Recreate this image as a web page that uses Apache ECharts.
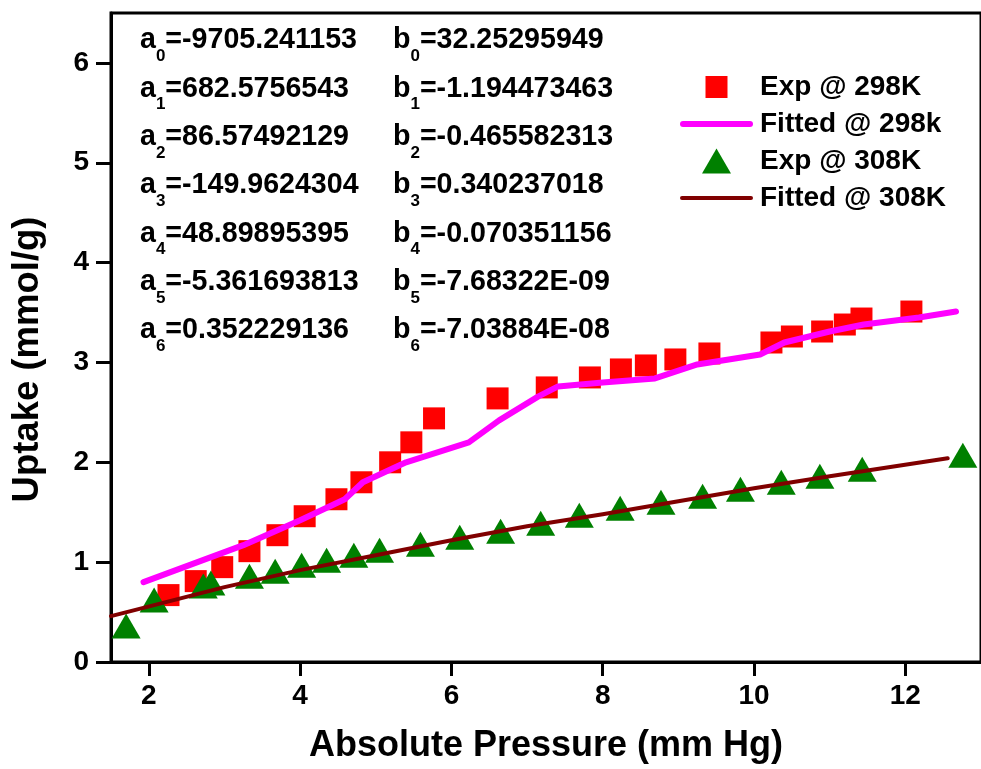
<!DOCTYPE html>
<html>
<head>
<meta charset="utf-8">
<script src="https://cdn.jsdelivr.net/npm/echarts@6/dist/echarts.min.js"></script>
<style>
html,body{margin:0;padding:0;background:#fff;}
#chart{width:981px;height:769px;}
</style>
</head>
<body>
<div id="chart"></div>
<script>
// ---- data ----
var exp298X = [2.26,2.62,2.97,3.33,3.70,4.06,4.48,4.81,5.19,5.47,5.77,6.61,7.26,7.83,8.24,8.57,8.96,9.41,10.23,10.50,10.90,11.20,11.42,12.08];
var exp298Y = [0.67,0.81,0.95,1.11,1.27,1.46,1.63,1.80,2.00,2.20,2.44,2.64,2.75,2.85,2.93,2.97,3.03,3.09,3.20,3.26,3.31,3.38,3.44,3.51];

var fit298X = [1.93,3.25,4.00,4.59,4.83,5.40,6.23,6.63,7.15,7.41,8.00,8.69,9.25,10.08,10.40,11.00,11.45,12.18,12.67];
var fit298Y = [0.80,1.17,1.42,1.63,1.80,2.00,2.20,2.42,2.66,2.76,2.80,2.84,2.98,3.08,3.20,3.31,3.38,3.45,3.51];

var exp308X = [1.70,2.07,2.72,2.82,3.33,3.67,4.02,4.35,4.71,5.05,5.59,6.11,6.65,7.18,7.69,8.23,8.77,9.32,9.82,10.36,10.87,11.43,12.76];
var exp308Y = [0.36,0.62,0.76,0.79,0.86,0.91,0.97,1.02,1.07,1.12,1.18,1.25,1.31,1.39,1.47,1.54,1.60,1.66,1.73,1.80,1.86,1.93,2.07];

var fit308X = [1.50,2.07,3.00,4.00,5.00,6.00,7.00,8.00,9.00,10.00,11.00,12.56];
var fit308Y = [0.46,0.57,0.75,0.92,1.07,1.22,1.36,1.48,1.61,1.74,1.86,2.04];

var xTicks = [2,4,6,8,10,12];
var yTicks = [0,1,2,3,4,5,6];

var seriesNames = ['Exp @ 298K','Fitted @ 298k','Exp @ 308K','Fitted @ 308K'];
var coefA = ['-9705.241153','682.5756543','86.57492129','-149.9624304','48.89895395','-5.361693813','0.352229136'];
var coefB = ['32.25295949','-1.194473463','-0.465582313','0.340237018','-0.070351156','-7.68322E-09','-7.03884E-08'];
var xTitle = 'Absolute Pressure (mm Hg)';
var yTitle = 'Uptake (mmol/g)';

function pairs(xs, ys){ return xs.map(function(x,i){ return [x, ys[i]]; }); }

var FONT = "'Liberation Sans', Arial, sans-serif";

var rich = {
  m: {fontSize: 28.6, fontWeight: 'bold', fontFamily: FONT, fill: '#000', color: '#000', lineHeight: 34, verticalAlign: 'top'},
  s: {fontSize: 17, fontWeight: 'bold', fontFamily: FONT, fill: '#000', color: '#000', lineHeight: 17, padding: [22,0,0,0], verticalAlign: 'top'}
};

var graphics = [];
for (var i = 0; i < coefA.length; i++) {
  var yTop = 26 + 48.3 * i;
  graphics.push({
    type: 'text', x: 140, y: yTop, z: 100,
    style: {text: '{m|a}{s|' + i + '}{m|=' + coefA[i] + '}', rich: rich, verticalAlign: 'top', align: 'left'}
  });
  graphics.push({
    type: 'text', x: 393, y: yTop, z: 100,
    style: {text: '{m|b}{s|' + i + '}{m|=' + coefB[i] + '}', rich: rich, verticalAlign: 'top', align: 'left'}
  });
}

var chart = echarts.init(document.getElementById('chart'), null, {renderer: 'canvas'});
chart.setOption({
  animation: false,
  backgroundColor: '#fff',
  grid: {left: 111, top: 13, bottom: 105, right: -3, show: true, borderColor: '#000', borderWidth: 3, containLabel: false},
  xAxis: {
    type: 'value', min: 1.5, max: 13, interval: 0.5,
    axisLabel: {
      fontSize: 28, fontWeight: 'bold', color: '#000', fontFamily: FONT, margin: 20,
      customValues: xTicks
    },
    axisLine: {show: true, onZero: false, lineStyle: {color: '#000', width: 3}},
    axisTick: {show: true, inside: false, length: 14, lineStyle: {color: '#000', width: 3}, customValues: xTicks},
    splitLine: {show: false},
    name: xTitle, nameLocation: 'middle', nameGap: 66,
    nameTextStyle: {fontSize: 36, fontWeight: 'bold', color: '#000', fontFamily: FONT}
  },
  yAxis: {
    type: 'value', min: 0, max: 6.5, interval: 0.5,
    axisLabel: {fontSize: 28, fontWeight: 'bold', color: '#000', fontFamily: FONT, margin: 22, customValues: yTicks},
    axisLine: {show: true, onZero: false, lineStyle: {color: '#000', width: 3}},
    axisTick: {show: true, inside: false, length: 15, lineStyle: {color: '#000', width: 3}, customValues: yTicks},
    splitLine: {show: false},
    name: yTitle, nameLocation: 'middle', nameGap: 65,
    nameTextStyle: {fontSize: 36.5, fontWeight: 'bold', color: '#000', fontFamily: FONT, padding: [0, 44, 0, 0]}
  },
  legend: {
    orient: 'vertical', left: 680, top: 73, padding: 0,
    itemWidth: 73, itemHeight: 26, itemGap: 9,
    selectedMode: false,
    textStyle: {fontSize: 28, fontWeight: 'bold', color: '#000', fontFamily: FONT, padding: [0, 0, 0, 2]},
    data: [
      {name: seriesNames[0], icon: 'path://M0,0M73,26M25.5,2L47.5,2L47.5,24L25.5,24Z'},
      {name: seriesNames[1], icon: 'path://M0,0M73,26M3,10L70,10A3,3,0,0,1,70,16L3,16A3,3,0,0,1,3,10Z'},
      {name: seriesNames[2], icon: 'path://M0,0M73,26M36.5,0.5L51,25.5L22,25.5Z'},
      {name: seriesNames[3], icon: 'path://M0,0M73,26M2,11L71,11A2,2,0,0,1,71,15L2,15A2,2,0,0,1,2,11Z'}
    ]
  },
  graphic: graphics,
  series: [
    {name: seriesNames[0], type: 'scatter', data: pairs(exp298X, exp298Y), symbol: 'rect', symbolSize: 22,
      itemStyle: {color: '#ff0000', opacity: 1}, z: 2},
    {name: seriesNames[1], type: 'line', data: pairs(fit298X, fit298Y), symbol: 'none', showSymbol: false,
      lineStyle: {color: '#ff00ff', width: 6, cap: 'round', join: 'round'}, itemStyle: {color: '#ff00ff'}, z: 3},
    {name: seriesNames[2], type: 'scatter', data: pairs(exp308X, exp308Y), symbol: 'triangle', symbolSize: [29, 25],
      itemStyle: {color: '#008000', opacity: 1}, z: 4},
    {name: seriesNames[3], type: 'line', data: pairs(fit308X, fit308Y), symbol: 'none', showSymbol: false,
      lineStyle: {color: '#800000', width: 4, cap: 'round', join: 'round'}, itemStyle: {color: '#800000'}, z: 5}
  ]
});
</script>
</body>
</html>
